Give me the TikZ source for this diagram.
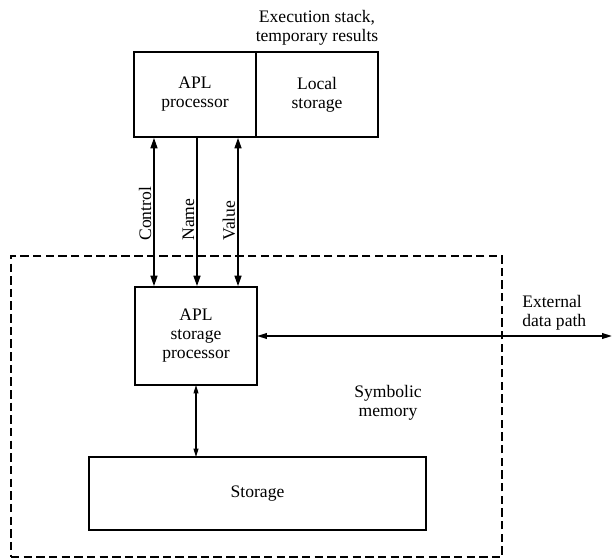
\documentclass[tikz,border=0pt]{standalone}
\usepackage{fontspec}
\setmainfont{Liberation Serif}
\usetikzlibrary{arrows.meta, positioning, calc}

\begin{document}
\begin{tikzpicture}[
  x=0.025cm, y=-0.025cm,
  font=\fontsize{12.5}{13.5}\selectfont,
  box/.style={rectangle, draw, line width=1.3pt, align=center, outer sep=0pt, inner sep=0pt},
  txt/.style={align=center, inner sep=0pt},
  bus/.style={{Triangle[length=8pt,width=4.5pt]}-{Triangle[length=8pt,width=4.5pt]}, line width=2pt},
  busin/.style={-{Triangle[length=8pt,width=4.5pt]}, line width=2pt},
  lbl/.style={rotate=90, anchor=south west, inner sep=1pt, pos=0.71},
  link/.style={{Triangle[length=7pt,width=4pt]}-{Triangle[length=7pt,width=4pt]}, line width=1.1pt},
  thinlink/.style={{Triangle[length=6pt,width=3.5pt]}-{Triangle[length=6pt,width=3.5pt]}, line width=0.8pt},
  memframe/.style={draw, dash pattern=on 6pt off 3pt, line width=0.9pt, minimum width=12.275cm, minimum height=7.525cm, inner sep=0pt}
]
  \useasboundingbox (0,0) rectangle (613,560);

  % processor side
  \node[box, minimum width=3.05cm, minimum height=2.125cm] (apl) at (195,94.5) {APL\\processor};
  \node[box, minimum width=3.05cm, minimum height=2.125cm, right=0pt of apl] (local) {Local\\storage};
  \node[txt, above=0.15cm of local] (stack) {Execution stack,\\temporary results};

  % symbolic memory
  \node[memframe] (symmem) at (256.5,406.5) {};
  \node[box, minimum width=3.05cm, minimum height=2.45cm] (sproc) at (196,336) {APL\\storage\\processor};
  \node[box, minimum width=8.425cm, minimum height=1.825cm] (store) at (257.5,493.5) {Storage};
  \node[txt] (symb) at (388,403) {Symbolic\\memory};

  % external path
  \coordinate (ext) at (612,337);
  \node[txt, align=left, anchor=south west] (extlbl) at (522,331) {External\\data path};

  \draw[bus] ([xshift=-1.025cm]apl.south) -- ([xshift=-1.025cm]apl.south |- sproc.north)
    node[lbl] {Control};
  \draw[busin] ([xshift=0.05cm]apl.south) -- ([xshift=0.05cm]apl.south |- sproc.north)
    node[lbl] {Name};
  \draw[bus] ([xshift=1.075cm]apl.south) -- ([xshift=1.075cm]apl.south |- sproc.north)
    node[lbl] {Value};
  \draw[link] (sproc.east) -- (sproc.east -| ext);
  \draw[thinlink] (sproc.south) -- (sproc.south |- store.north);
\end{tikzpicture}
\end{document}
